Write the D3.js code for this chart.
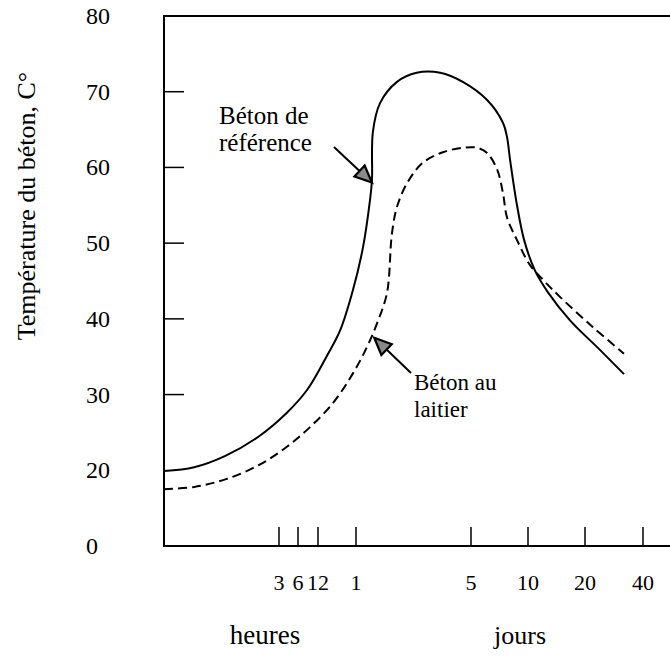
<!DOCTYPE html>
<html><head><meta charset="utf-8">
<script src="https://cdn.jsdelivr.net/npm/d3@7"></script>
<style>body{margin:0;background:#fff} svg{display:block}</style>
</head><body><svg id="c" width="670" height="662"></svg>
<script>
// ---- data (time in hours, temperature in °C) ----
const hoursRef = [0.5, 0.8, 1.3, 2.2, 4, 8.2, 14, 18, 22.7, 26.5, 29.2, 30, 30.4, 33.6, 42.6, 56, 78, 107, 146, 177, 186, 193, 210, 229, 261, 306, 400, 574, 765];
const tempRef  = [19.9, 20.4, 21.9, 24.5, 27.6, 30.6, 35.0, 38.5, 43.8, 49.5, 55.7, 58.3, 64.7, 68.5, 71.3, 72.5, 72.5, 71.3, 68.9, 65.9, 64.0, 61.0, 55.0, 50.4, 46.4, 43.5, 39.8, 35.9, 32.7];
const hoursSlag = [0.5, 0.8, 1.3, 2.2, 4, 9.1, 15.8, 22.7, 28, 32.2, 37, 39.7, 42.6, 49, 61, 81, 107, 129, 146, 165, 177, 186, 210, 246, 295, 354, 528, 765];
const tempSlag  = [17.5, 17.8, 18.8, 20.7, 23.1, 25.7, 28.9, 32.8, 36.3, 39.4, 43.4, 51.3, 54.8, 57.9, 60.6, 62.0, 62.6, 62.6, 61.9, 59.7, 56.6, 53.4, 50.4, 47.1, 44.9, 42.9, 38.9, 35.4];
const xTickHours  = [3, 6, 12, 24, 120, 240, 480, 960];
const xTickLabels = ["3", "6", "12", "1", "5", "10", "20", "40"];
const yTickValues = [30, 40, 50, 60, 70];
const yLabelValues = [80, 70, 60, 50, 40, 30, 20, 10];
const yLabelTexts  = ["80", "70", "60", "50", "40", "30", "20", "0"];
const unitLabels = ["heures", "jours"];
const yTitle = "Température du béton, C°";
const refLabel = ["Béton de", "référence"];
const slagLabel = ["Béton au", "laitier"];

// ---- scales ----
const x = d3.scaleLog()
  .domain([0.5, 3, 6, 12, 24, 120, 240, 480, 960, 1344])
  .range([164, 279, 298, 318, 356, 471, 528, 585, 643, 670]);
const y = d3.scaleLinear().domain([10, 80]).range([546, 16]);

const svg = d3.select("#c");
const font = "'Liberation Serif','Times New Roman',serif";
const L = 164, T = 16, B = 546, R = 670;

// frame
svg.append("path").attr("d", `M${R},${T}H${L}V${B}H${R}`)
  .attr("fill", "none").attr("stroke", "#000").attr("stroke-width", 2);

// y ticks (inward)
svg.append("g").selectAll("line").data(yTickValues).join("line")
  .attr("x1", L).attr("x2", L + 20).attr("y1", d => y(d)).attr("y2", d => y(d))
  .attr("stroke", "#000").attr("stroke-width", 1.5);
// y labels
svg.append("g").selectAll("text").data(yLabelValues).join("text")
  .attr("x", 86).attr("y", d => y(d) + 8)
  .attr("font-family", font).attr("font-size", 24).attr("fill", "#000")
  .text((d, i) => yLabelTexts[i]);

// x ticks (inward)
svg.append("g").selectAll("line").data(xTickHours).join("line")
  .attr("x1", d => x(d)).attr("x2", d => x(d)).attr("y1", B).attr("y2", B - 19)
  .attr("stroke", "#000").attr("stroke-width", 1.5);
svg.append("g").selectAll("text").data(xTickHours).join("text")
  .attr("x", d => x(d)).attr("y", 590).attr("text-anchor", "middle")
  .attr("font-family", font).attr("font-size", 22).attr("fill", "#000")
  .text((d, i) => xTickLabels[i]);

// unit labels
svg.append("text").attr("x", 265).attr("y", 644).attr("text-anchor", "middle")
  .attr("font-family", font).attr("font-size", 27).text(unitLabels[0]);
svg.append("text").attr("x", 520).attr("y", 644).attr("text-anchor", "middle")
  .attr("font-family", font).attr("font-size", 26).text(unitLabels[1]);

// y title
svg.append("text").attr("transform", "translate(35,206) rotate(-90)")
  .attr("text-anchor", "middle").attr("font-family", font).attr("font-size", 26)
  .text(yTitle);

// curves
const line = d3.line().curve(d3.curveCatmullRom.alpha(0.5));
svg.append("path")
  .attr("d", line(hoursRef.map((h, i) => [x(h), y(tempRef[i])])))
  .attr("fill", "none").attr("stroke", "#000").attr("stroke-width", 2);
svg.append("path")
  .attr("d", line(hoursSlag.map((h, i) => [x(h), y(tempSlag[i])])))
  .attr("fill", "none").attr("stroke", "#000").attr("stroke-width", 2)
  .attr("stroke-dasharray", "9,5");

// annotations
function arrow(x0, y0, tx, ty) {
  const dx = tx - x0, dy = ty - y0, len = Math.hypot(dx, dy);
  const ux = dx / len, uy = dy / len, hl = 17, hw = 7.5;
  const bx = tx - ux * hl, by = ty - uy * hl;
  svg.append("line").attr("x1", x0).attr("y1", y0).attr("x2", bx).attr("y2", by)
    .attr("stroke", "#000").attr("stroke-width", 2);
  svg.append("path")
    .attr("d", `M${tx},${ty}L${bx - uy * hw},${by + ux * hw}L${bx + uy * hw},${by - ux * hw}Z`)
    .attr("fill", "#8a8a8a").attr("stroke", "#000").attr("stroke-width", 2.2)
    .attr("stroke-linejoin", "miter");
}
arrow(334, 147, x(30), y(58));
arrow(411, 373, x(31), y(37.5));

svg.append("text").attr("font-family", font).attr("font-size", 25)
  .selectAll("tspan").data(refLabel).join("tspan")
  .attr("x", 219).attr("y", (d, i) => 124 + i * 27).text(d => d);
svg.append("text").attr("font-family", font).attr("font-size", 23)
  .selectAll("tspan").data(slagLabel).join("tspan")
  .attr("x", 414).attr("y", (d, i) => 390 + i * 27).text(d => d);
</script></body></html>
